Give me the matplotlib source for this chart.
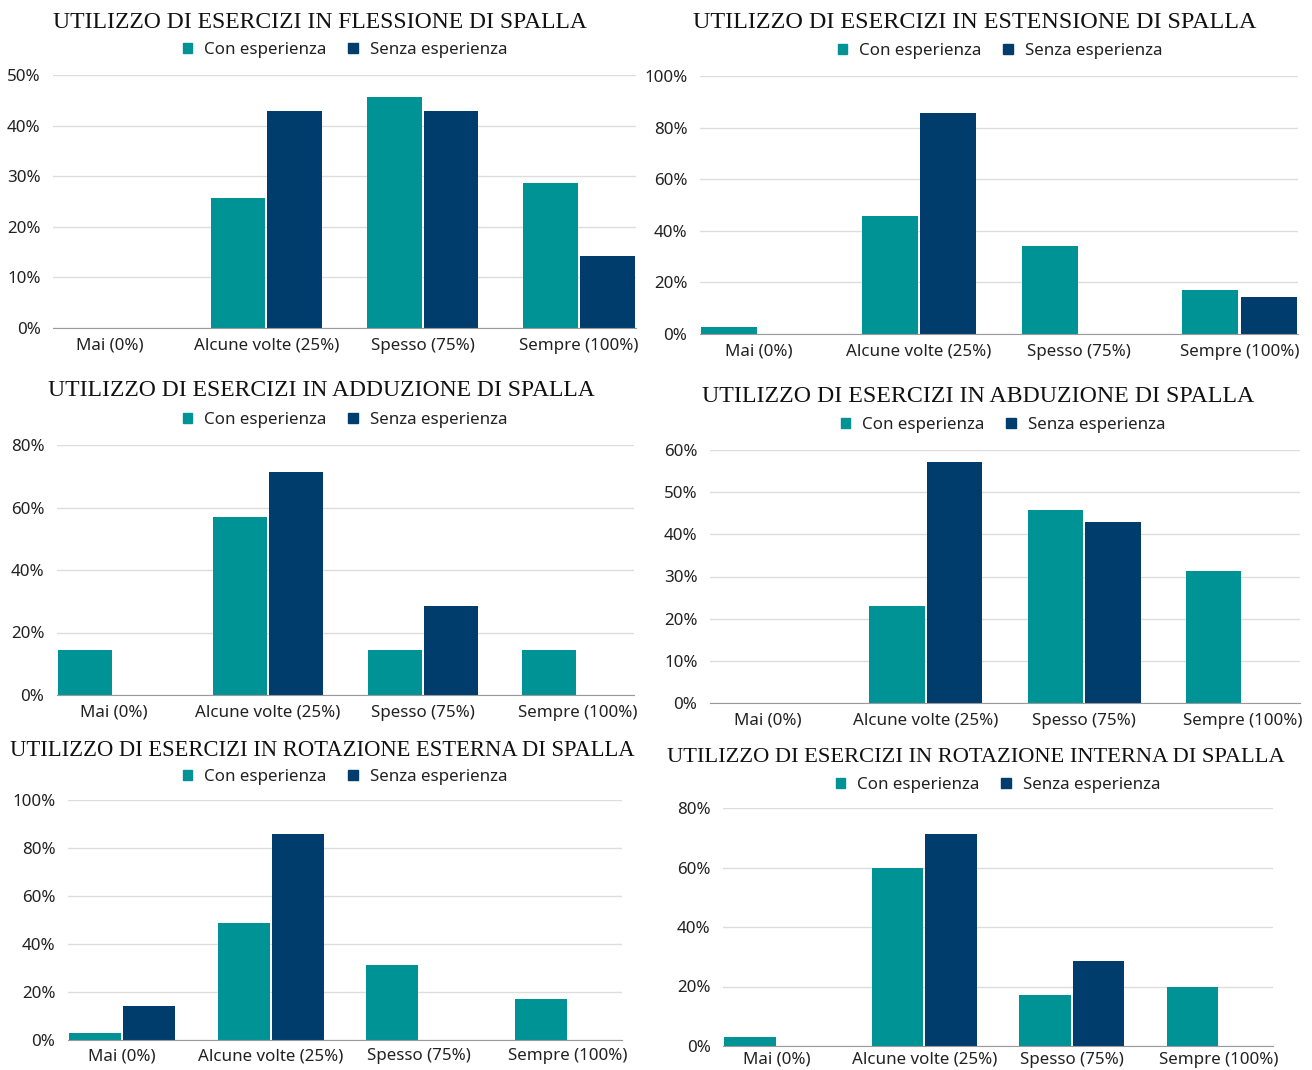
import numpy as np
import matplotlib.pyplot as plt
from matplotlib.patches import Patch
from matplotlib.ticker import PercentFormatter

categorie = ["Mai (0%)", "Alcune volte (25%)", "Spesso (75%)", "Sempre (100%)"]
serie = ["Con esperienza", "Senza esperienza"]

titoli = [
    "UTILIZZO DI ESERCIZI IN FLESSIONE DI SPALLA",
    "UTILIZZO DI ESERCIZI IN ESTENSIONE DI SPALLA",
    "UTILIZZO DI ESERCIZI IN ADDUZIONE DI SPALLA",
    "UTILIZZO DI ESERCIZI IN ABDUZIONE DI SPALLA",
    "UTILIZZO DI ESERCIZI IN ROTAZIONE ESTERNA DI SPALLA",
    "UTILIZZO DI ESERCIZI IN ROTAZIONE INTERNA DI SPALLA",
]

# percentuali per categoria
flessione_con = [0.0, 25.7, 45.7, 28.6]
flessione_senza = [0.0, 42.9, 42.9, 14.3]
estensione_con = [2.9, 45.7, 34.3, 17.1]
estensione_senza = [0.0, 85.7, 0.0, 14.3]
adduzione_con = [14.3, 57.1, 14.3, 14.3]
adduzione_senza = [0.0, 71.4, 28.6, 0.0]
abduzione_con = [0.0, 22.9, 45.7, 31.4]
abduzione_senza = [0.0, 57.1, 42.9, 0.0]
rot_esterna_con = [2.9, 48.6, 31.4, 17.1]
rot_esterna_senza = [14.3, 85.7, 0.0, 0.0]
rot_interna_con = [2.9, 60.0, 17.1, 20.0]
rot_interna_senza = [0.0, 71.4, 28.6, 0.0]

ymax = [50, 100, 80, 60, 100, 80]
ystep = [10, 20, 20, 10, 20, 20]

dati = [
    (flessione_con, flessione_senza),
    (estensione_con, estensione_senza),
    (adduzione_con, adduzione_senza),
    (abduzione_con, abduzione_senza),
    (rot_esterna_con, rot_esterna_senza),
    (rot_interna_con, rot_interna_senza),
]

TEAL = "#009395"
NAVY = "#003C6C"
W, H = 1312, 1070

# posizione in pixel di ogni grafico: sinistra, destra, cima asse, zero, titolo y, legenda y,
# centro titolo, centro legenda, pad etichette x, corpo titolo
layout = [
    (53, 636, 75, 328, 22, 50, 320, 345, 7, 17),
    (700, 1298, 76, 334, 22, 51, 975, 1000, 7, 17.4),
    (57, 634, 445, 695, 391, 420, 321, 345, 7, 17),
    (710, 1300, 450, 703, 396, 425, 978, 1003, 7, 17.2),
    (68, 622, 800, 1040, 750, 777, 322, 345, 6, 16.3),
    (723, 1273, 808, 1046, 758, 785, 976, 998, 4, 16.2),
]

plt.rcParams['font.family'] = ['Noto Sans', 'DejaVu Sans']
fig = plt.figure(figsize=(W / 100, H / 100), dpi=100)

x = np.arange(len(categorie))
larg = 0.35
for i, (con, senza) in enumerate(dati):
    l, r, top, zero, ty, ly, tx, lx, pad, fs = layout[i]
    ax = fig.add_axes([l / W, 1 - zero / H, (r - l) / W, (zero - top) / H])
    ax.bar(x - 0.182, con, larg, color=TEAL, zorder=3)
    ax.bar(x + 0.182, senza, larg, color=NAVY, zorder=3)
    ax.set_xlim(-0.365, 3.365)
    ax.set_ylim(0, ymax[i])
    ax.set_yticks(np.arange(0, ymax[i] + 1, ystep[i]))
    ax.yaxis.set_major_formatter(PercentFormatter(decimals=0))
    ax.set_xticks(x)
    ax.set_xticklabels(categorie)
    ax.tick_params(length=0, labelsize=12.2, colors="#222222")
    ax.tick_params(axis='x', pad=pad)
    ax.tick_params(axis='y', pad=9)
    ax.grid(axis='y', color="#dddddd", linewidth=1, zorder=0)
    for s in ["top", "right", "left"]:
        ax.spines[s].set_visible(False)
    ax.spines["bottom"].set_color("#9a9a9a")
    ax.spines["bottom"].set_zorder(4)

    fig.text(tx / W, 1 - ty / H, titoli[i], ha="center", va="center",
             fontsize=fs, family="Liberation Serif", color="#111111")
    maniglie = [Patch(color=TEAL), Patch(color=NAVY)]
    fig.legend(maniglie, serie, loc="center", bbox_to_anchor=(lx / W, 1 - ly / H),
               ncol=2, frameon=False, fontsize=12.2, handlelength=0.55, handleheight=0.55,
               handletextpad=0.7, columnspacing=1.3, labelcolor="#222222")

fig.savefig("out.png", dpi=100, facecolor="white")
